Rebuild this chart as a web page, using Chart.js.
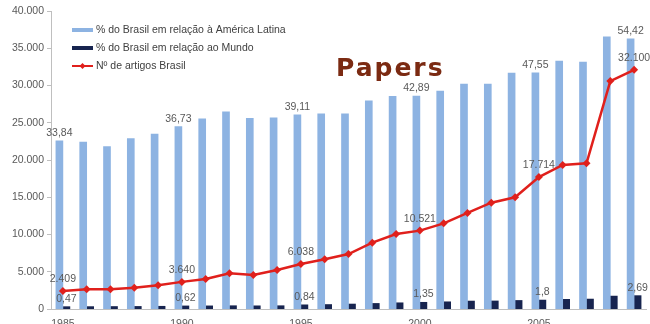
<!DOCTYPE html>
<html>
<head>
<meta charset="utf-8">
<script src="https://cdn.jsdelivr.net/npm/chart.js@4.4.0/dist/chart.umd.min.js"></script>
<style>
  html, body { margin: 0; padding: 0; background: #fff; overflow: hidden; width: 650px; height: 324px; }
  #wrap { position: relative; width: 650px; height: 340px; }
  #title { position: absolute; left: 336px; top: 53px; font: bold 25px "DejaVu Sans"; color: #7b2a12; letter-spacing: 2px; }
</style>
</head>
<body>
<div id="wrap">
  <canvas id="chart" width="650" height="340"></canvas>
  <div id="title">Papers</div>
</div>
<script>
const years = ['1985','1986','1987','1988','1989','1990','1991','1992','1993','1994','1995','1996',
  '1997','1998','1999','2000','2001','2002','2003','2004','2005','2006','2007','2008','2009'];
// % do Brasil em relação à América Latina
const pctLatAm = [33.84, 33.6, 32.7, 34.3, 35.2, 36.73, 38.3, 39.7, 38.4, 38.5, 39.11, 39.3, 39.3,
  41.9, 42.8, 42.89, 43.9, 45.3, 45.3, 47.5, 47.55, 49.9, 49.7, 54.8, 54.42];
// % do Brasil em relação ao Mundo
const pctWorld = [0.47, 0.48, 0.5, 0.52, 0.55, 0.62, 0.63, 0.66, 0.64, 0.66, 0.84, 0.9, 1.0,
  1.12, 1.25, 1.35, 1.45, 1.6, 1.62, 1.72, 1.8, 1.95, 2.0, 2.6, 2.69];
// Nº de artigos Brasil
const articles = [2409, 2644, 2650, 2860, 3180, 3640, 4030, 4790, 4560, 5230, 6038, 6670, 7380,
  8900, 10070, 10521, 11500, 12900, 14270, 14990, 17714, 19330, 19560, 30600, 32100];
const labelYears = ['1985','1990','1995','2000','2005','2009'];
const xTickYears = ['1985','1990','1995','2000','2005'];
const yTicks = [0, 5000, 10000, 15000, 20000, 25000, 30000, 35000, 40000];

const fmtInt = v => String(v).replace(/\B(?=(\d{3})+(?!\d))/g, '.');
const fmtDec = v => String(v).replace('.', ',');
const txt = '#595959';
const font = '"Liberation Sans", Arial, sans-serif';

const valueLabels = {
  id: 'valueLabels',
  afterDatasetsDraw(chart) {
    const ctx = chart.ctx;
    ctx.save();
    ctx.font = '10.5px ' + font;
    ctx.fillStyle = txt;
    ctx.textAlign = 'center';
    ctx.textBaseline = 'alphabetic';
    chart.data.datasets.forEach((ds, di) => {
      const meta = chart.getDatasetMeta(di);
      years.forEach((yr, i) => {
        if (!labelYears.includes(yr)) return;
        const el = meta.data[i];
        const isLine = ds.type === 'line';
        const s = isLine ? fmtInt(ds.data[i]) : fmtDec(ds.data[i]);
        ctx.fillText(s, el.x, el.y - (isLine ? 9 : 5));
      });
    });
    ctx.restore();
  }
};

const legendBox = {
  id: 'legendBox',
  afterDraw(chart) {
    const ctx = chart.ctx;
    ctx.save();
    ctx.font = '10.5px ' + font;
    ctx.textBaseline = 'middle';
    chart.data.datasets.forEach((ds, di) => {
      const y = 30 + di * 18;
      if (ds.type === 'line') {
        ctx.strokeStyle = ds.borderColor;
        ctx.lineWidth = 2;
        ctx.beginPath(); ctx.moveTo(72, y); ctx.lineTo(93, y); ctx.stroke();
        ctx.fillStyle = ds.borderColor;
        ctx.beginPath();
        ctx.moveTo(82.5, y - 3); ctx.lineTo(85.5, y); ctx.lineTo(82.5, y + 3); ctx.lineTo(79.5, y);
        ctx.closePath(); ctx.fill();
      } else {
        ctx.fillStyle = ds.backgroundColor;
        ctx.fillRect(72, y - 2, 21, 4);
      }
      ctx.fillStyle = '#404040';
      ctx.fillText(ds.label, 96, y);
    });
    ctx.restore();
  }
};

new Chart(document.getElementById('chart'), {
  data: {
    labels: years,
    datasets: [
      {
        type: 'bar',
        label: '% do Brasil em relação à América Latina',
        data: pctLatAm,
        yAxisID: 'y2',
        backgroundColor: '#8db3e2',
        barThickness: 7,
        order: 1
      },
      {
        type: 'bar',
        label: '% do Brasil em relação ao Mundo',
        data: pctWorld,
        yAxisID: 'y2',
        backgroundColor: '#17244f',
        barThickness: 7,
        order: 1
      },
      {
        type: 'line',
        label: 'Nº de artigos Brasil',
        data: articles,
        yAxisID: 'y',
        borderColor: '#e0201c',
        backgroundColor: '#e0201c',
        borderWidth: 2.5,
        pointStyle: 'rectRot',
        pointRadius: 4,
        pointBackgroundColor: '#e0201c',
        pointBorderWidth: 0,
        tension: 0,
        order: 0
      }
    ]
  },
  options: {
    responsive: false,
    animation: false,
    devicePixelRatio: 1,
    layout: { padding: { top: 11, right: 0, bottom: 0, left: 0 } },
    plugins: {
      legend: { display: false },
      tooltip: { enabled: false }
    },
    scales: {
      x: {
        offset: true,
        grid: { display: false, drawTicks: false },
        border: { color: '#bfbfbf' },
        ticks: {
          autoSkip: false,
          maxRotation: 0,
          padding: 9,
          color: txt,
          font: { family: font, size: 10.5 },
          callback: function (v, i) { return xTickYears.includes(years[i]) ? years[i] : ''; }
        },
        afterFit: s => { s.height = 31; }
      },
      y: {
        position: 'left',
        min: 0,
        max: 40000,
        afterBuildTicks: s => { s.ticks = yTicks.map(v => ({ value: v })); },
        grid: { drawOnChartArea: false, tickLength: 4, color: '#bfbfbf' },
        border: { color: '#bfbfbf' },
        ticks: {
          color: txt,
          padding: 3,
          font: { family: font, size: 10.5 },
          callback: v => fmtInt(v)
        },
        afterFit: s => { s.width = 51; }
      },
      y2: {
        display: false,
        min: 0,
        max: 60
      }
    }
  },
  plugins: [valueLabels, legendBox]
});
</script>
</body>
</html>
